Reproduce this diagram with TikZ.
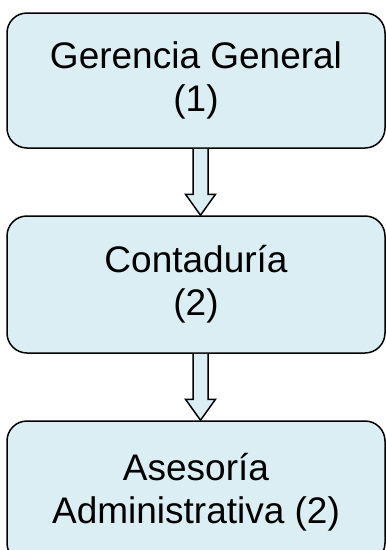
\documentclass[tikz,border=0pt]{standalone}
\usepackage{fontspec}
\setmainfont{Liberation Sans}
\usetikzlibrary{calc}
\definecolor{boxblue}{RGB}{219,238,244}
\tikzset{
  orgbox/.style={draw=black, fill=boxblue, line width=1.5pt, rounded corners=20pt,
    minimum width=378pt, align=center, inner sep=0pt,
    font=\fontsize{37}{43}\selectfont},
  blockarrow/.style={draw=black, fill=boxblue, line width=1.5pt, line join=miter}
}
\begin{document}
\begin{tikzpicture}[x=1pt,y=1pt]
\useasboundingbox (0,0) rectangle (386,-550);
\clip (0,0) rectangle (386,-550);
\node[orgbox, minimum height=135pt] (g1) at (196,-80.5) {Gerencia General\\(1)};
\node[orgbox, minimum height=137pt] (g2) at (196,-284.5) {Contaduría\\(2)};
\node[orgbox, minimum height=142pt] (g3) at (196,-492) {Asesoría\\Administrativa (2)};
\foreach \a/\b in {g1/g2, g2/g3}{
  \draw[blockarrow]
    ($(\a.south)+(-3,0)$) -- ($(\b.north)+(-3,21)$) -- ($(\b.north)+(-10.5,21)$)
    -- ($(\b.north)+(4.5,0)$) -- ($(\b.north)+(19.5,21)$) -- ($(\b.north)+(12,21)$)
    -- ($(\a.south)+(12,0)$);
}
\end{tikzpicture}
\end{document}
